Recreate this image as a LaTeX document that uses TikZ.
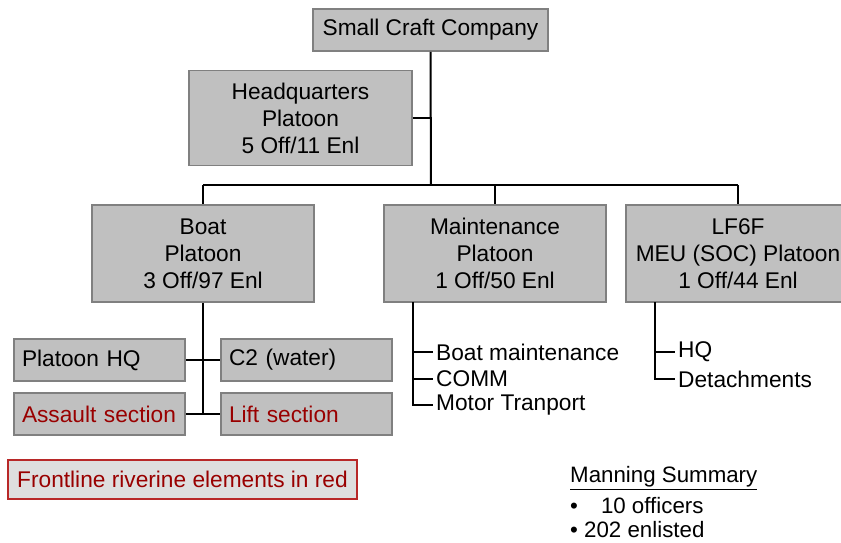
\documentclass[tikz,border=0pt]{standalone}
\usepackage{fontspec}
\setmainfont{Liberation Sans}
\definecolor{boxfill}{HTML}{C0C0C0}
\definecolor{boxline}{HTML}{808080}
\definecolor{frontred}{HTML}{990000}
\definecolor{noteline}{HTML}{B82828}
\definecolor{notefill}{HTML}{DEDEDE}
\begin{document}
\begin{tikzpicture}[x=1pt,y=-1pt,
  font=\fontsize{22.7}{27}\selectfont,
  unit/.style={draw=boxline, fill=boxfill, line width=1.5pt, inner sep=0pt,
    align=center, minimum width=#1},
  unit/.default=222pt,
  tall/.style={minimum height=97pt},
  leaf/.style={draw=boxline, fill=boxfill, line width=1.5pt, inner sep=0pt,
    minimum width=171pt, minimum height=42pt, text width=155pt, align=left},
  red/.style={text=frontred},
  item/.style={inner sep=3pt, anchor=west},
  link/.style={line width=2pt, black}]
\useasboundingbox (0,0) rectangle (841,542);
\clip (0,0) rectangle (841,542);

% company and its platoons
\node[unit=235pt, minimum height=42pt] (top) at (430.5,30) {Small Craft Company};
\node[unit=223pt, minimum height=95pt] (hq) at (300.5,118) {Headquarters\\Platoon\\5 Off/11 Enl};
\node[unit, tall] (boat) at (203,253.5) {Boat\\Platoon\\3 Off/97 Enl};
\node[unit, tall] (maint) at (495,253.5) {Maintenance\\Platoon\\1 Off/50 Enl};
\node[unit=224pt, tall] (lf) at (738,253.5) {LF6F\\MEU (SOC) Platoon\\1 Off/44 Enl};

% boat platoon sections
\node[leaf] (phq) at (99.5,360) {Platoon HQ};
\node[leaf] (c2) at (306.5,360) {C2 (water)};
\node[leaf, red] (assault) at (99.5,414) {Assault section};
\node[leaf, red] (lift) at (306.5,414) {Lift section};

% maintenance and LF6F elements
\node[item] (m1) at (433,352) {Boat maintenance};
\node[item] (m2) at (433,379) {COMM};
\node[item] (m3) at (433,405) {Motor Tranport};
\node[item] (l1) at (675,352) {HQ};
\node[item] (l2) at (675,379) {Detachments};

% connectors
\coordinate (bus) at (431,185);
\draw[link] (top.south) -- (bus);
\draw[link] (hq.east) -- (hq.east -| top.south);
\draw[link] (boat.north |- bus) -- (lf.north |- bus);
\draw[link] (boat.north |- bus) -- (boat.north);
\draw[link] (maint.north |- bus) -- (maint.north);
\draw[link] (lf.north |- bus) -- (lf.north);

\draw[link] (boat.south) -- (boat.south |- lift.west);
\draw[link] (phq.east) -- (c2.west);
\draw[link] (assault.east) -- (lift.west);

\coordinate (mt) at (413,302);
\draw[link] (mt) |- (m3.west);
\draw[link] (m1.west -| mt) -- (m1.west);
\draw[link] (m2.west -| mt) -- (m2.west);

\coordinate (lt) at (655,302);
\draw[link] (lt) |- (l2.west);
\draw[link] (l1.west -| lt) -- (l1.west);

% legend note
\node[draw=noteline, fill=notefill, line width=1.5pt, text=frontred,
  minimum width=349pt, minimum height=39pt, inner sep=0pt] (note) at (182.5,479.5)
  {Frontline riverine elements in red};

% manning summary
\begin{scope}[font=\fontsize{22.3}{27}\selectfont]
\node[anchor=west, inner sep=0pt] (ms) at (570,478) {\underline{Manning Summary}};
\node[anchor=west, inner sep=0pt] (off) at (570,506) {\textbullet\hspace{23pt}10 officers};
\node[anchor=west, inner sep=0pt] (enl) at (570,530) {\textbullet\ 202 enlisted};
\end{scope}
\end{tikzpicture}
\end{document}
